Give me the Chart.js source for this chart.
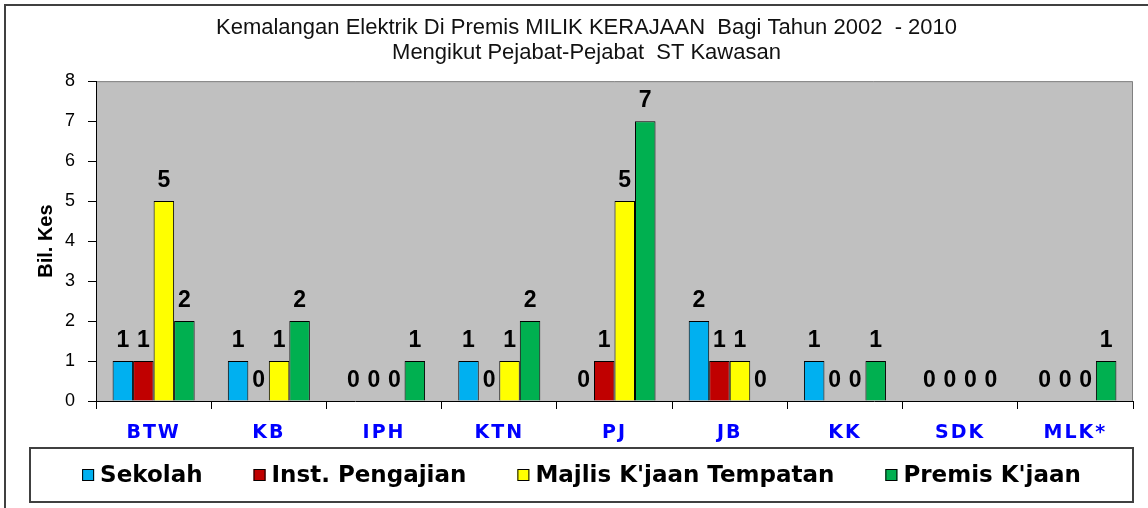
<!DOCTYPE html>
<html>
<head>
<meta charset="utf-8">
<script src="https://cdn.jsdelivr.net/npm/chart.js@4.4.1/dist/chart.umd.min.js"></script>
<style>
html,body{margin:0;padding:0;background:#fff;}
#wrap{width:1148px;height:508px;position:relative;}
canvas{display:block;}
</style>
</head>
<body>
<div id="wrap"><canvas id="c" width="1148" height="508"></canvas></div>
<script>
const categories = ['BTW', 'KB', 'IPH', 'KTN', 'PJ', 'JB', 'KK', 'SDK', 'MLK*'];
const seriesNames = ['Sekolah', 'Inst. Pengajian', "Majlis K'jaan Tempatan", "Premis K'jaan"];
const sekolah       = [1, 1, 0, 1, 0, 2, 1, 0, 0];
const instPengajian = [1, 0, 0, 0, 1, 1, 0, 0, 0];
const majlis        = [5, 1, 0, 1, 5, 1, 0, 0, 0];
const premis        = [2, 2, 1, 2, 7, 0, 1, 0, 1];
const yTicks = [0, 1, 2, 3, 4, 5, 6, 7, 8];
const titleLines = ['Kemalangan Elektrik Di Premis MILIK KERAJAAN  Bagi Tahun 2002  - 2010', 'Mengikut Pejabat-Pejabat  ST Kawasan'];
const yTitle = 'Bil. Kes';
const seriesColors = ['#00B0F0', '#C00000', '#FFFF00', '#00B050'];

const seriesData = [sekolah, instPengajian, majlis, premis];

const decor = {
  id: 'decor',
  beforeDraw(chart) {
    const ctx = chart.ctx, a = chart.chartArea;
    ctx.save();
    ctx.fillStyle = '#C0C0C0';
    ctx.fillRect(a.left, a.top, a.right - a.left, a.bottom - a.top);
    ctx.strokeStyle = '#808080';
    ctx.lineWidth = 1;
    ctx.beginPath();
    ctx.moveTo(a.left, a.top + 0.5);
    ctx.lineTo(a.right - 0.5, a.top + 0.5);
    ctx.lineTo(a.right - 0.5, a.bottom);
    ctx.stroke();
    ctx.restore();
    ctx.letterSpacing = '0px';
  },
  afterDatasetsDraw(chart) {
    const ctx = chart.ctx;
    ctx.save();
    ctx.letterSpacing = '0px';
    ctx.font = 'bold 23px "Liberation Sans", Arial, sans-serif';
    ctx.fillStyle = '#000';
    ctx.textAlign = 'center';
    ctx.textBaseline = 'middle';
    chart.data.datasets.forEach((ds, i) => {
      const meta = chart.getDatasetMeta(i);
      meta.data.forEach((bar, j) => {
        ctx.fillText(String(ds.data[j]), bar.x, bar.y - 20);
      });
    });
    ctx.restore();
    ctx.letterSpacing = '2px';
  },
  afterDraw(chart) {
    const ctx = chart.ctx;
    ctx.letterSpacing = '0px';
    ctx.save();
    // outer frame
    ctx.strokeStyle = '#404040';
    ctx.lineWidth = 2;
    ctx.beginPath();
    ctx.moveTo(5, 510);
    ctx.lineTo(5, 5);
    ctx.lineTo(1150, 5);
    ctx.stroke();
    // legend box
    const bx = 30, by = 448, bw = 1103, bh = 54;
    ctx.lineWidth = 2;
    ctx.strokeRect(bx, by, bw, bh);
    ctx.font = 'bold 23px "DejaVu Sans", Verdana, sans-serif';
    const widths = chart.data.datasets.map(d => ctx.measureText(d.label).width);
    const box = 12, gapBT = 6, gapItem = 51;
    let total = 0;
    widths.forEach((w, i) => { total += box + gapBT + w + (i < widths.length - 1 ? gapItem : 0); });
    let x = bx + bw / 2 - total / 2;
    const cy = by + bh / 2;
    ctx.textBaseline = 'middle';
    ctx.textAlign = 'left';
    chart.data.datasets.forEach((d, i) => {
      ctx.fillStyle = d.backgroundColor;
      ctx.fillRect(x, cy - 6, box, box);
      ctx.strokeStyle = '#000';
      ctx.lineWidth = 1;
      ctx.strokeRect(x + 0.5, cy - 5.5, box - 1, box - 1);
      ctx.fillStyle = '#000';
      ctx.fillText(d.label, x + box + gapBT, cy + 1);
      x += box + gapBT + widths[i] + gapItem;
    });
    ctx.restore();
  }
};

new Chart(document.getElementById('c'), {
  type: 'bar',
  data: {
    labels: categories,
    datasets: seriesNames.map((name, i) => ({
      label: name,
      data: seriesData[i],
      backgroundColor: seriesColors[i],
      borderColor: '#000',
      borderWidth: 1
    }))
  },
  options: {
    responsive: false,
    animation: false,
    devicePixelRatio: 1,
    layout: { padding: { top: 0, left: 40, right: 15, bottom: 61 } },
    datasets: { bar: { categoryPercentage: 0.712, barPercentage: 1 } },
    plugins: {
      legend: { display: false },
      tooltip: { enabled: false },
      title: {
        display: true,
        text: titleLines,
        color: '#111',
        font: { family: '"Liberation Sans", Arial, sans-serif', size: 22, weight: 'normal', lineHeight: 1.14 },
        padding: { top: 15, bottom: 16 }
      }
    },
    scales: {
      x: {
        grid: { display: true, drawOnChartArea: false, drawTicks: true, tickLength: 8, color: '#000', offset: true },
        border: { display: true, color: '#000', width: 1 },
        ticks: {
          color: '#0000FF',
          font: { family: '"DejaVu Sans", Verdana, sans-serif', size: 19, weight: 'bold' },
          padding: 13, z: 1, maxRotation: 0, autoSkip: false
        },
        afterFit(s) { s.height = 46; }
      },
      y: {
        min: 0, max: 8,
        afterBuildTicks(s) { s.ticks = yTicks.map(v => ({ value: v })); },
        ticks: { color: '#000', font: { family: '"Liberation Sans", Arial, sans-serif', size: 18 }, padding: 13 },
        grid: { display: true, drawOnChartArea: false, tickLength: 8, color: '#000' },
        border: { display: true, color: '#000', width: 1 },
        title: {
          display: true, text: yTitle, color: '#000',
          font: { family: '"Liberation Sans", Arial, sans-serif', size: 20, weight: 'bold' },
          padding: { top: -6, bottom: 0 }
        },
        afterFit(s) { s.width = 56; }
      }
    }
  },
  plugins: [decor]
});
</script>
</body>
</html>
